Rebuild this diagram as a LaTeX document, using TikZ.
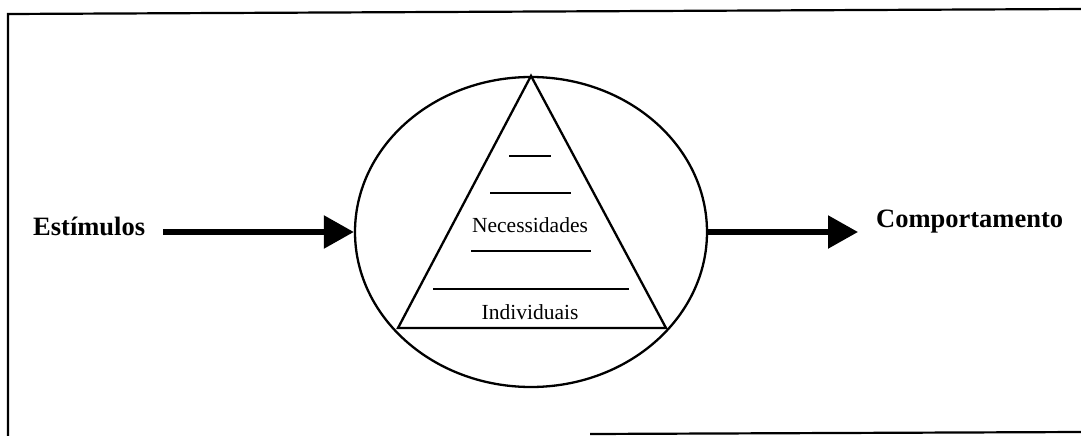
\documentclass[tikz,border=0pt]{standalone}
\usepackage{fontspec}
\setmainfont{Liberation Serif}
\usetikzlibrary{shapes.geometric,arrows.meta,positioning,calc}

\begin{document}
\begin{tikzpicture}[
    x=1pt, y=-1pt,
    every node/.style={align=center, inner sep=0pt},
    label/.style={font=\fontsize{26.5}{30}\selectfont\bfseries},
    level/.style={font=\fontsize{21.5}{24}\selectfont},
    mind/.style={ellipse, draw, line width=2.3pt, minimum width=352pt, minimum height=310pt},
    frame/.style={line width=2.2pt},
    rung/.style={line width=1.8pt},
    arrowline/.style={line width=5.5pt, -{Triangle[length=30pt,width=32pt]}}
]
\useasboundingbox (0,0) rectangle (1081,436);

% Frame
\draw[frame] (8,436) -- (8,14) -- (1081,9);
\draw[frame] (590,434) -- (1081,432);

% Circle with pyramid of needs
\node[mind] (circle) at (531,232) {};
\coordinate (apex) at (circle.north);
\coordinate (baseleft) at (398,328);
\coordinate (baseright) at (666,328);
\draw[line width=2.3pt, line join=miter] (apex) -- (baseleft) -- (baseright) -- cycle;

\draw[rung] (509,156) -- (551,156);
\draw[rung] (490,193) -- (571,193);
\node[level] (needs) at (530,225) {Necessidades};
\draw[rung] (471,251) -- (591,251);
\draw[rung] (433,289) -- (629,289);
\node[level] (individual) at (530,312) {Individuais};

% Inputs and outputs
\node[label, anchor=west] (stimuli) at (33,226) {Estímulos};
\node[label, anchor=west] (behaviour) at (876,222) {Comportamento};

% Connections
\draw[arrowline, shorten <=18pt] (stimuli.east |- circle.west) -- (circle.west);
\draw[arrowline, shorten >=18pt] (circle.east) -- (behaviour.west |- circle.east);

\end{tikzpicture}
\end{document}
